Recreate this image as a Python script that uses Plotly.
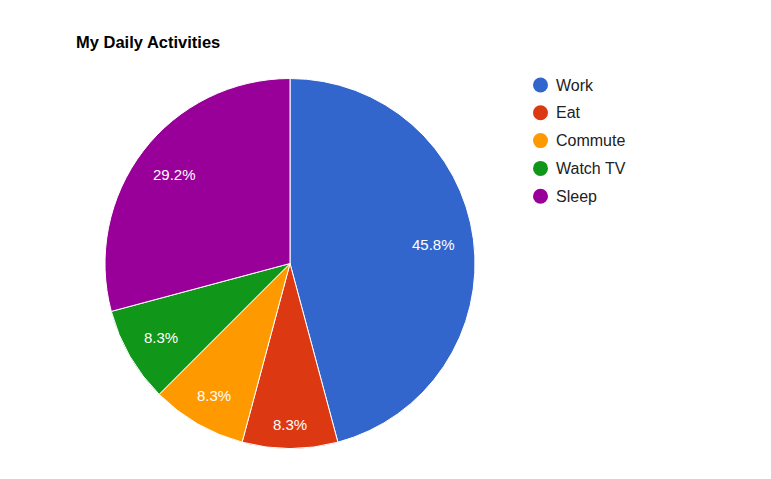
import math
import plotly.graph_objects as go

categories = ["Work", "Eat", "Commute", "Watch TV", "Sleep"]
hours = [11, 2, 2, 2, 7]
colors = ["#3366cc", "#dc3912", "#ff9900", "#109618", "#990099"]
title_text = "My Daily Activities"

W, H = 771, 479
OFF = 8  # page body margin offset
FONT = "Liberation Sans, Arial"
LABEL_SIZE = 15
cx, cy, r = 290 - OFF, 263.5 - OFF, 185

fig = go.Figure()
fig.add_trace(go.Pie(
    labels=categories, values=hours, sort=False, direction="clockwise", rotation=0,
    marker=dict(colors=colors, line=dict(color="white", width=1)),
    textinfo="none", hoverinfo="label+value+percent", showlegend=False,
    domain=dict(x=[(cx - r) / W, (cx + r) / W], y=[1 - (cy + r) / H, 1 - (cy - r) / H]),
))

char_w = {".": 0.278, "%": 0.889}
annotations = []
shapes = []
total = sum(hours)
cum = 0
R = 0.9 * r
for lab, v in zip(categories, hours):
    mid = (cum + v / 2) / total * 2 * math.pi
    cum += v
    txt = f"{v / total * 100:.1f}%"
    hw = sum(char_w.get(c, 0.556) for c in txt) * LABEL_SIZE / 2
    hh = 5.5
    ux, uy = math.sin(mid), -math.cos(mid)
    a = math.copysign(hw, ux) if abs(ux) > 1e-9 else 0
    b = math.copysign(hh, uy) if abs(uy) > 1e-9 else 0
    p = ux * a + uy * b
    d = -p + math.sqrt(p * p - (a * a + b * b - R * R))
    x = cx + d * ux
    y = cy + d * uy
    annotations.append(dict(x=x / W, y=1 - y / H, xref="paper", yref="paper",
                            xanchor="center", yanchor="middle",
                            text=txt, showarrow=False,
                            font=dict(family=FONT, size=LABEL_SIZE, color="white")))

for i, (lab, col) in enumerate(zip(categories, colors)):
    ly = 85 + i * 27.8 - OFF
    lx = 540.5 - OFF
    shapes.append(dict(type="circle", xref="paper", yref="paper",
                       x0=(lx - 7.5) / W, x1=(lx + 7.5) / W, y0=1 - (ly + 7.5) / H, y1=1 - (ly - 7.5) / H,
                       fillcolor=col, line=dict(width=0)))
    annotations.append(dict(x=(554 - OFF) / W, y=1 - ly / H, xref="paper", yref="paper",
                            xanchor="left", yanchor="middle", text=lab, showarrow=False,
                            font=dict(family=FONT, size=16, color="#222222")))

fig.update_layout(
    width=W, height=H, margin=dict(l=0, r=0, t=0, b=0),
    paper_bgcolor="white", plot_bgcolor="white",
    title=dict(text=f"<b>{title_text}</b>", x=(76 - OFF) / W, xanchor="left",
               y=1 - (42 - OFF) / H, yanchor="middle",
               font=dict(family=FONT, size=16.5, color="#000000")),
    annotations=annotations, shapes=shapes,
)
fig.write_html("out.html")
